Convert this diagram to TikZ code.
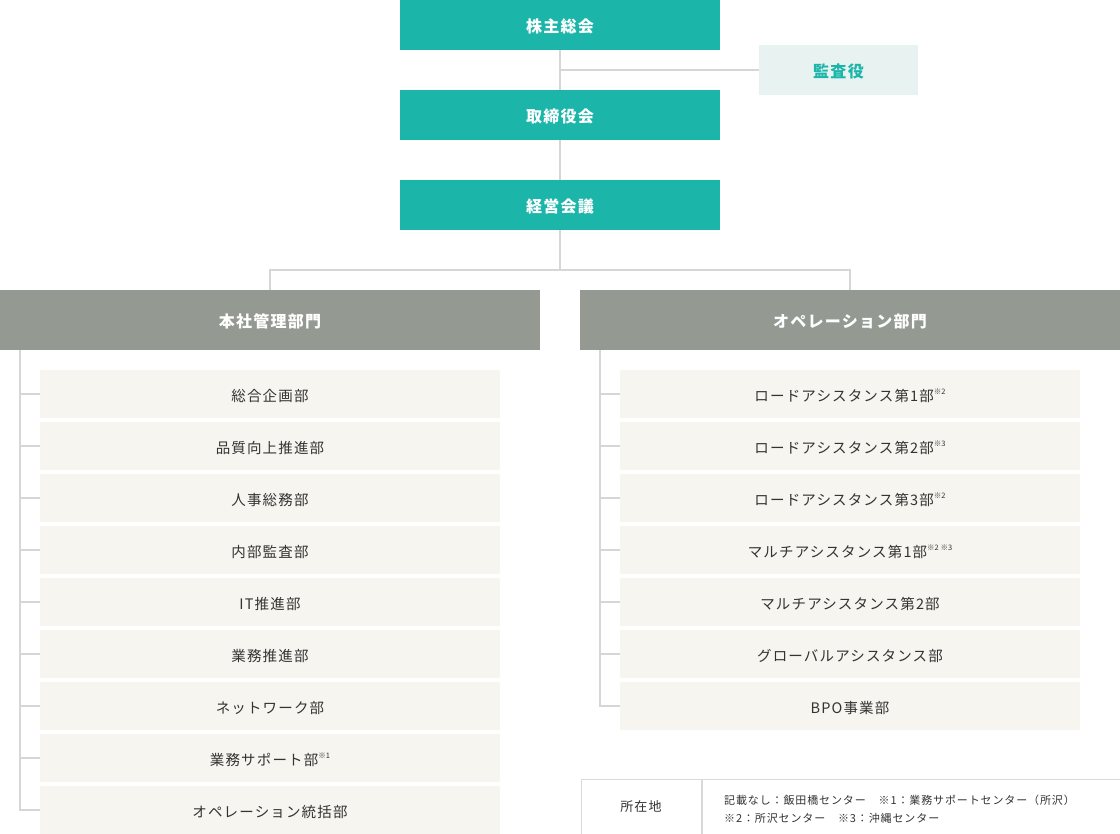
\documentclass[tikz,border=0pt]{standalone}
\usepackage{fontspec}
\setmainfont{Noto Sans CJK JP}[LetterSpace=8]
\definecolor{teal1}{HTML}{1BB5AA}
\definecolor{kansafill}{HTML}{E8F2F1}
\definecolor{hdrgray}{HTML}{949A92}
\definecolor{itemfill}{HTML}{F7F5EF}
\definecolor{linegray}{HTML}{D6D6D6}
\definecolor{legborder}{HTML}{D9D9D9}
\definecolor{txt}{HTML}{333333}
\newcommand{\noteup}[1]{\raisebox{0.45em}{\fontsize{7.5}{8}\selectfont\addfontfeatures{LetterSpace=0}#1}}
\tikzset{
  lowered/.style={text height=1.5em, text depth=0pt},
  topbox/.style={lowered, fill=teal1, text=white, minimum width=320pt, minimum height=50pt, inner sep=0pt, outer sep=0pt, font=\fontsize{16}{18}\selectfont\bfseries},
  kansabox/.style={lowered, fill=kansafill, text=teal1, minimum width=159pt, minimum height=50pt, inner sep=0pt, outer sep=0pt, font=\fontsize{16}{18}\selectfont\bfseries},
  hdrbox/.style={lowered, fill=hdrgray, text=white, minimum width=540pt, minimum height=60pt, inner sep=0pt, outer sep=0pt, font=\fontsize{16}{18}\selectfont\bfseries},
  itembox/.style={lowered, fill=itemfill, text=txt, minimum width=460pt, minimum height=48pt, inner sep=0pt, outer sep=0pt, font=\fontsize{14.5}{17}\selectfont},
  conn/.style={draw=linegray, line width=2pt},
  legtext/.style={text=txt, inner sep=0pt, anchor=west, align=left, font=\fontsize{11}{17.5}\selectfont}
}
\begin{document}
\begin{tikzpicture}[x=1pt,y=-1pt]
\useasboundingbox (0,0) rectangle (1120,834);
\fill[white] (0,0) rectangle (1120,834);
% top
\node[topbox] (kabu) at (560,25) {株主総会};
\node[topbox] (tori) at (560,115) {取締役会};
\node[topbox] (keiei) at (560,205) {経営会議};
\node[kansabox] (kansa) at (838.5,70) {監査役};
\coordinate (j1) at (560,70);
\coordinate (br) at (560,270);
\draw[conn] (kabu.south) -- (tori.north);
\draw[conn] (tori.south) -- (keiei.north);
\draw[conn] (j1) -- (kansa.west);
\draw[conn] (keiei.south) -- (br);
% headers
\node[hdrbox] (hq) at (270,320) {本社管理部門};
\node[hdrbox] (op) at (850,320) {オペレーション部門};
\draw[conn] (hq.north) |- (br) -| (op.north);
% left items
\node[itembox] (l1) at (270,394) {総合企画部};
\node[itembox] (l2) at (270,446) {品質向上推進部};
\node[itembox] (l3) at (270,498) {人事総務部};
\node[itembox] (l4) at (270,550) {内部監査部};
\node[itembox] (l5) at (270,602) {IT推進部};
\node[itembox] (l6) at (270,654) {業務推進部};
\node[itembox] (l7) at (270,706) {ネットワーク部};
\node[itembox] (l8) at (270,758) {業務サポート部\noteup{※1}};
\node[itembox] (l9) at (270,810) {オペレーション統括部};
\coordinate (lt) at (20,350);
\draw[conn] (lt) |- (l9.west);
\foreach \i in {1,...,8} \draw[conn] (lt |- l\i.west) -- (l\i.west);
% right items
\node[itembox] (r1) at (850,394) {ロードアシスタンス第1部\noteup{※2}};
\node[itembox] (r2) at (850,446) {ロードアシスタンス第2部\noteup{※3}};
\node[itembox] (r3) at (850,498) {ロードアシスタンス第3部\noteup{※2}};
\node[itembox] (r4) at (850,550) {マルチアシスタンス第1部\noteup{※2 ※3}};
\node[itembox] (r5) at (850,602) {マルチアシスタンス第2部};
\node[itembox] (r6) at (850,654) {グローバルアシスタンス部};
\node[itembox] (r7) at (850,706) {BPO事業部};
\coordinate (rt) at (600,350);
\draw[conn] (rt) |- (r7.west);
\foreach \i in {1,...,6} \draw[conn] (rt |- r\i.west) -- (r\i.west);
% legend
\node[draw=legborder, line width=1pt, minimum width=120pt, minimum height=55pt, inner sep=0pt, anchor=north west, text=txt, font=\fontsize{13}{15}\selectfont] (leg1) at (580.5,778.5) {所在地};
\node[draw=legborder, line width=1pt, minimum width=418.5pt, minimum height=55pt, inner sep=0pt, anchor=north west] (leg2) at (leg1.north east) {};
\node[legtext] (legt) at (724,809) {記載なし：飯田橋センター　※1：業務サポートセンター（所沢）\\※2：所沢センター　※3：沖縄センター};
\end{tikzpicture}
\end{document}
